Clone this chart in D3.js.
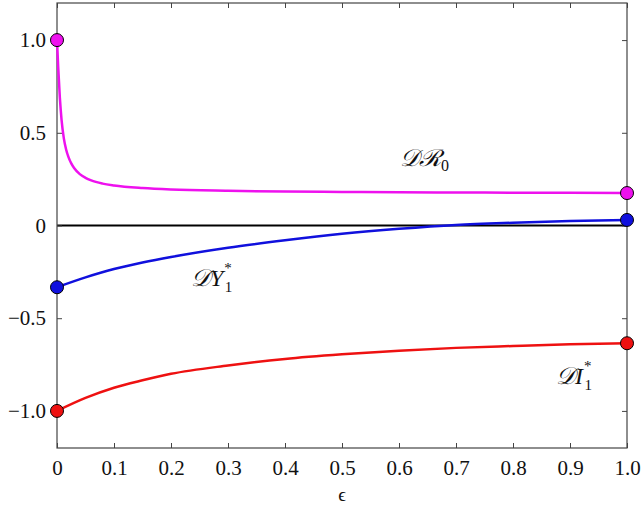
<!DOCTYPE html>
<html><head><meta charset="utf-8">
<script src="https://cdn.jsdelivr.net/npm/d3@7"></script>
<style>body{margin:0;background:#fff}svg{display:block}</style>
</head><body>
<svg id="c" width="642" height="505"></svg>
<script>
const xTicks = [0,0.1,0.2,0.3,0.4,0.5,0.6,0.7,0.8,0.9,1.0];
const xTickLabels = ["0","0.1","0.2","0.3","0.4","0.5","0.6","0.7","0.8","0.9","1.0"];
const yTicks = [-1,-0.5,0,0.5,1];
const yTickLabels = ["\u22121.0","\u22120.5","0","0.5","1.0"];

const epsR0 = [0,0.002,0.005,0.008,0.012,0.016,0.02,0.025,0.03,0.04,0.05,0.06,0.08,0.1,0.15,0.2,0.3,0.4,0.5,0.6,0.7,0.8,0.9,1.0];
const valR0 = [1.0,0.86,0.69,0.57,0.47,0.41,0.37,0.335,0.31,0.277,0.257,0.243,0.226,0.216,0.202,0.194,0.187,0.183,0.181,0.179,0.178,0.177,0.176,0.175];

const epsY = [0,0.05,0.1,0.15,0.2,0.3,0.4,0.5,0.6,0.7,0.8,0.9,1.0];
const valY = [-0.333,-0.28,-0.235,-0.2,-0.17,-0.12,-0.08,-0.045,-0.018,0.003,0.015,0.024,0.03];
const valI = [-1.0,-0.93,-0.875,-0.835,-0.80,-0.755,-0.72,-0.695,-0.675,-0.66,-0.65,-0.641,-0.635];

const svg = d3.select("#c");
const L=57,R=627,T=3,B=448;
const x = d3.scaleLinear().domain([0,1]).range([L,R]);
const y = d3.scaleLinear().domain([-1.2,1.2]).range([B,T]);
const font = "'Times New Roman', Times, Tinos, 'Liberation Serif', 'Nimbus Roman', 'DejaVu Serif', serif";

svg.append("line").attr("x1",x(0)).attr("x2",x(1)).attr("y1",y(0)).attr("y2",y(0))
  .attr("stroke","#000").attr("stroke-width",2);

const axB = d3.axisBottom(x).tickValues(xTicks).tickSize(-5).tickFormat((d,i)=>xTickLabels[i]).tickPadding(12);
const axT = d3.axisTop(x).tickValues(xTicks).tickSize(-5).tickFormat("");
const axL = d3.axisLeft(y).tickValues(yTicks).tickSize(-5).tickFormat((d,i)=>yTickLabels[i]).tickPadding(11);
const axRt = d3.axisRight(y).tickValues(yTicks).tickSize(-5).tickFormat("");
function style(g){
  g.attr("font-family",null).attr("font-size",null);
  g.select(".domain").remove();
  g.selectAll("line").attr("stroke","#444").attr("stroke-width",1);
  g.selectAll("text").style("font-family",font).style("font-size","21px").attr("fill","#111");
}
svg.append("g").attr("transform",`translate(0,${B})`).call(axB).call(style);
svg.append("g").attr("transform",`translate(0,${T})`).call(axT).call(style);
svg.append("g").attr("transform",`translate(${L},0)`).call(axL).call(style);
svg.append("g").attr("transform",`translate(${R},0)`).call(axRt).call(style);
svg.append("rect").attr("x",L).attr("y",T).attr("width",R-L).attr("height",B-T)
  .attr("fill","none").attr("stroke","#444").attr("stroke-width",1.2);

const line = d3.line().x(d=>x(d[0])).y(d=>y(d[1])).curve(d3.curveMonotoneX);
const series = [
  {eps:epsR0, val:valR0, color:"#ee11ee"},
  {eps:epsY, val:valY, color:"#1010dd"},
  {eps:epsY, val:valI, color:"#ee1111"}
];
series.forEach(s=>{
  const pts = s.eps.map((e,i)=>[e,s.val[i]]);
  svg.append("path").datum(pts).attr("d",line).attr("fill","none")
    .attr("stroke",s.color).attr("stroke-width",2.5);
});
series.forEach(s=>{
  const n = s.eps.length-1;
  [[s.eps[0],s.val[0]],[s.eps[n],s.val[n]]].forEach(p=>{
    svg.append("circle").attr("cx",x(p[0])).attr("cy",y(p[1])).attr("r",6.5)
      .attr("fill",s.color).attr("stroke","#000").attr("stroke-width",1);
  });
});

function mathLabel(px,py,main,sub,sup){
  const t = svg.append("text").attr("x",px).attr("y",py).style("font-family",font)
    .style("font-size","24px").style("font-style","italic").attr("fill","#111");
  t.append("tspan").text(main);
  if(sup){
    t.append("tspan").style("font-size","15px").style("font-style","normal").attr("dy",-13).attr("dx",1).text(sup);
    t.append("tspan").style("font-size","15px").style("font-style","normal").attr("dy",19).attr("dx",-7).text(sub);
  } else {
    t.append("tspan").style("font-size","16px").style("font-style","normal").attr("dy",5).text(sub);
  }
}
mathLabel(400,166,"\uD835\uDC9F\u211B","0");
mathLabel(191,286,"\uD835\uDC9FY","1","*");
mathLabel(556,384,"\uD835\uDC9FI","1","*");

svg.append("text").attr("x",x(0.5)).attr("y",501).attr("text-anchor","middle").style("font-family",font)
  .style("font-size","19px").attr("fill","#111").text("\u03F5");
</script>
</body></html>
